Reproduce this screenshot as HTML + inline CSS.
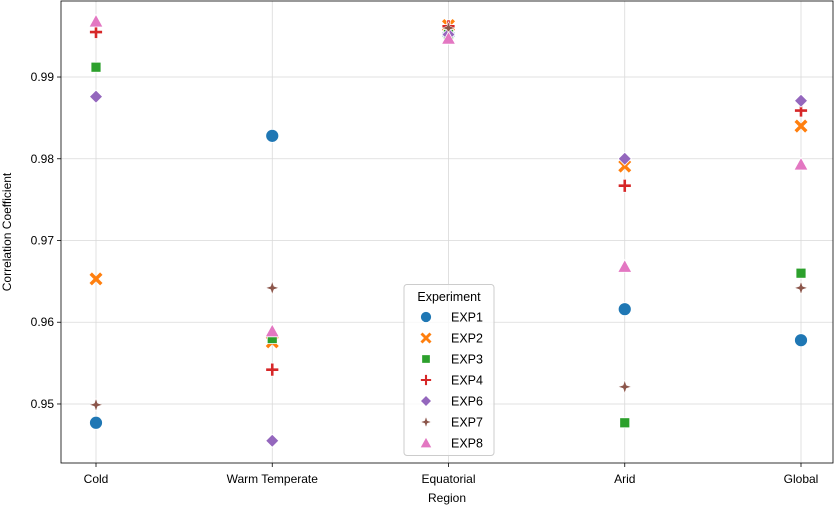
<!DOCTYPE html>
<html><head><meta charset="utf-8"><style>
body{margin:0;background:#fff;}
svg{display:block;font-family:"Liberation Sans","DejaVu Sans",sans-serif;}
</style></head><body>
<svg id="chart" width="838" height="506" viewBox="0 0 838 506"></svg>
<script>
const categories=["Cold","Warm Temperate","Equatorial","Arid","Global"];
const seriesNames=["EXP1","EXP2","EXP3","EXP4","EXP6","EXP7","EXP8"];
const exp1=[0.9477,0.9828,0.9952,0.9616,0.9578];
const exp2=[0.9653,0.9576,0.9963,0.9791,0.9840];
const exp3=[0.9912,0.9580,0.9952,0.9477,0.9660];
const exp4=[0.9955,0.9542,0.9962,0.9767,0.9859];
const exp6=[0.9876,0.9455,0.9952,0.9800,0.9871];
const exp7=[0.9499,0.9642,0.9960,0.9521,0.9642];
const exp8=[0.9968,0.9589,0.9947,0.9668,0.9793];
const yTicks=[0.95,0.96,0.97,0.98,0.99];
const yTickLabels=["0.95","0.96","0.97","0.98","0.99"];
const colors=["#1f77b4","#ff7f0e","#2ca02c","#d62728","#9467bd","#8c564b","#e377c2"];
const shapes=["circle","x","square","plus","diamond","star","triangle"];
const allSeries=[exp1,exp2,exp3,exp4,exp6,exp7,exp8];

const L=61,R=833,T=1,B=463;
const yMin=0.94278,yMax=0.99930;
const y=v=>B-(v-yMin)/(yMax-yMin)*(B-T);
const x=i=>96+i*176.25;
const svg=document.getElementById('chart');
const NS="http://www.w3.org/2000/svg";
function mk(tag,attrs,parent){const e=document.createElementNS(NS,tag);for(const k in attrs)e.setAttribute(k,attrs[k]);(parent||svg).appendChild(e);return e;}

yTicks.forEach((t,i)=>{
  const g=mk('line',{x1:L,x2:R,y1:y(t),y2:y(t),stroke:'#d9d9d9','stroke-width':0.8});
  
  
  const tk=mk('line',{x1:L-4,x2:L,y1:y(t),y2:y(t),stroke:'#000','stroke-width':0.8});
  
  
  const tx=mk('text',{x:L-7,y:y(t)+4,'text-anchor':'end','font-size':12,fill:'#000'});
  tx.textContent=yTickLabels[i];
  
  
});
categories.forEach((c,i)=>{
  const g=mk('line',{x1:x(i),x2:x(i),y1:T,y2:B,stroke:'#d9d9d9','stroke-width':0.8});
  
  
  const tk=mk('line',{x1:x(i),x2:x(i),y1:B,y2:B+4,stroke:'#000','stroke-width':0.8});
  
  
  const tx=mk('text',{x:x(i),y:B+20,'text-anchor':'middle','font-size':12,fill:'#000'});
  tx.textContent=c;
  
  
});

function marker(shape,cx,cy,color,parent,s){
  s=s||1;let e;
  if(shape==='circle')e=mk('circle',{cx,cy,r:6.5*s,fill:color,stroke:'#fff','stroke-width':0.8},parent);
  else if(shape==='square')e=mk('rect',{x:cx-5*s,y:cy-5*s,width:10*s,height:10*s,fill:color,stroke:'#fff','stroke-width':0.8},parent);
  else if(shape==='diamond'){const d=6.5*s;e=mk('polygon',{points:`${cx},${cy-d} ${cx+d},${cy} ${cx},${cy+d} ${cx-d},${cy}`,fill:color,stroke:'#fff','stroke-width':0.8},parent);}
  else if(shape==='triangle'){const d=7*s;e=mk('polygon',{points:`${cx},${cy-d} ${cx+d},${cy+d*0.8} ${cx-d},${cy+d*0.8}`,fill:color,stroke:'#fff','stroke-width':0.8},parent);}
  else if(shape==='plus'){const a=6.5*s,b=1.7*s;e=mk('polygon',{points:`${cx-b},${cy-a} ${cx+b},${cy-a} ${cx+b},${cy-b} ${cx+a},${cy-b} ${cx+a},${cy+b} ${cx+b},${cy+b} ${cx+b},${cy+a} ${cx-b},${cy+a} ${cx-b},${cy+b} ${cx-a},${cy+b} ${cx-a},${cy-b} ${cx-b},${cy-b}`,fill:color,stroke:'#fff','stroke-width':0.8},parent);}
  else if(shape==='x'){const a=5.3*s;e=mk('path',{d:`M${cx-a},${cy-a}L${cx+a},${cy+a}M${cx+a},${cy-a}L${cx-a},${cy+a}`,stroke:color,'stroke-width':3.4*s,'stroke-linecap':'butt',fill:'none'},parent);}
  else if(shape==='star'){const a=6.5*s,b=1.6*s;e=mk('polygon',{points:`${cx},${cy-a} ${cx+b},${cy-b} ${cx+a},${cy} ${cx+b},${cy+b} ${cx},${cy+a} ${cx-b},${cy+b} ${cx-a},${cy} ${cx-b},${cy-b}`,fill:color,stroke:'#fff','stroke-width':0.5},parent);}
  return e;
}

allSeries.forEach((vals,si)=>{
  const g=mk('g',{});
  
  
  vals.forEach((v,i)=>{
    const m=marker(shapes[si],x(i),y(v),colors[si],g);
    
    
  });
});

const fr=mk('rect',{x:L,y:T,width:R-L,height:B-T,fill:'none',stroke:'#000','stroke-width':0.8});



const xt=mk('text',{x:(L+R)/2,y:502,'text-anchor':'middle','font-size':12});
xt.textContent='Region';


const yt=mk('text',{x:11,y:(T+B)/2,'text-anchor':'middle','font-size':12,transform:`rotate(-90 11 ${(T+B)/2})`});
yt.textContent='Correlation Coefficient';



const lg=mk('g',{});


mk('rect',{x:404,y:284.5,width:90,height:171,rx:3,fill:'#fff','fill-opacity':0.8,stroke:'#ccc','stroke-width':1},lg);
const lt=mk('text',{x:449,y:301,'text-anchor':'middle','font-size':12.5},lg);
lt.textContent='Experiment';


seriesNames.forEach((n,i)=>{
  const eg=mk('g',{},lg);
  
  
  const cy=317+i*21;
  marker(shapes[i],426,cy,colors[i],eg,0.85);
  const t=mk('text',{x:451,y:cy+4.5,'font-size':12.5},eg);
  t.textContent=n;
});
</script>
</body></html>
